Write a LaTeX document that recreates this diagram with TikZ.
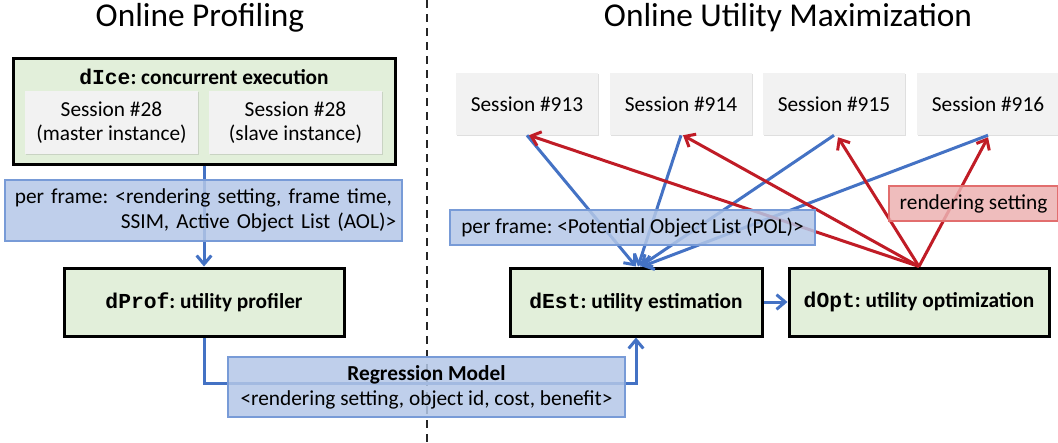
\documentclass[tikz,border=0pt]{standalone}
\usepackage{fontspec}
\setmainfont{Carlito}
\newfontfamily\monofont{Liberation Mono}
\usetikzlibrary{arrows.meta,shadows,calc}
\pgfdeclarelayer{back}\pgfdeclarelayer{front}
\pgfsetlayers{back,main,front}
\definecolor{gfill}{RGB}{226,239,218}
\definecolor{sgray}{RGB}{242,242,242}
\definecolor{lblfill}{RGB}{180,199,231}
\definecolor{lblborder}{RGB}{120,155,215}
\definecolor{arrblue}{RGB}{68,114,196}
\definecolor{arrred}{RGB}{192,28,38}
\definecolor{rfill}{RGB}{236,178,178}
\definecolor{rborder}{RGB}{226,110,110}
\frenchspacing
\begin{document}
\begin{tikzpicture}[x=0.75pt,y=-0.75pt,
  font=\fontsize{16}{18}\selectfont,
  wh/.style 2 args={minimum width={#1*0.75pt}, minimum height={#2*0.75pt}},
  greenbox/.style={draw=black, line width=2.25pt, fill=gfill, inner sep=0pt,
    drop shadow={shadow xshift=1.5pt, shadow yshift=-1.5pt, opacity=0.35}},
  sessbox/.style={fill=sgray, inner sep=0pt, align=center,
    drop shadow={shadow xshift=1pt, shadow yshift=-1pt, opacity=0.25}},
  bluelbl/.style={draw=lblborder, line width=0.8pt, fill=lblfill, fill opacity=0.85, text opacity=1},
  redlbl/.style={draw=rborder, line width=0.8pt, fill=rfill, fill opacity=0.85, text opacity=1},
  bluearrow/.style={draw=arrblue, line width=2.25pt, -{Straight Barb[length=6.5pt,width=11pt]}},
  redarrow/.style={draw=arrred, line width=2.25pt, -{Straight Barb[length=6.5pt,width=11pt]}},
  titletext/.style={font=\fontsize{25}{30}\selectfont}
]
\useasboundingbox (0,0) rectangle (1058,443);

% titles
\node[titletext] (t1) at (200,18) {Online Profiling};
\node[titletext] (t2) at (788,18) {Online Utility Maximization};

% dashed separator
\coordinate (dtop) at (427,0);
\coordinate (dbot) at (427,443);
\begin{pgfonlayer}{back}
\draw[black!85, line width=1.1pt, dash pattern=on 6pt off 4.5pt] (dtop) -- (dbot);
\end{pgfonlayer}

% left side
\node[greenbox, wh={382}{106}] (dice) at (204,111) {};
\node[font=\fontsize{16}{18}\selectfont\bfseries] (diceT) at (204,77) {{\monofont dIce}: concurrent execution};
\node[sessbox, wh={173}{63}] (m28) at (111.5,122.5) {Session \#28\\(master instance)};
\node[sessbox, wh={173}{63}] (s28) at (295.5,122.5) {Session \#28\\(slave instance)};
\node[greenbox, wh={280}{68}] (dprof) at (204,302) {{\monofont\bfseries dProf}\textbf{: utility profiler}};

% right side
\node[sessbox, wh={142}{62}] (s913) at (527,104) {Session \#913};
\node[sessbox, wh={142}{62}] (s914) at (681,104) {Session \#914};
\node[sessbox, wh={142}{62}] (s915) at (834,104) {Session \#915};
\node[sessbox, wh={142}{62}] (s916) at (988,104) {Session \#916};
\node[greenbox, wh={252}{68}] (dest) at (636,302) {{\monofont\bfseries dEst}\textbf{: utility estimation}};
\node[greenbox, wh={260}{68}] (dopt) at (919,302) {{\monofont\bfseries dOpt}\textbf{: utility optimization}};

% label boxes (front)
\begin{pgfonlayer}{front}
\node[bluelbl, wh={397}{61}, text width=289pt, inner xsep=4pt, align=left,
  font=\fontsize{16}{18.75}\selectfont] (aol) at (203.5,210.5)
  {\hspace*{3pt}per frame: <rendering setting, frame time,\\ \hfill SSIM, Active Object List (AOL)>\hspace*{4pt}};
\node[bluelbl, wh={397}{60}, align=center, font=\fontsize{16}{18.75}\selectfont] (reg) at (426.5,387)
  {\textbf{Regression Model}\\<rendering setting, object id, cost, benefit>};
\node[bluelbl, wh={365}{35}] (pol) at (632.5,227.5) {per frame: <Potential Object List (POL)>};
\node[redlbl, wh={169}{35}] (rs) at (973.5,203.5) {rendering setting};
\end{pgfonlayer}

% connectors
\draw[bluearrow] (dice.south) -- (dprof.north);
\draw[bluearrow] (dprof.south) -- ++(0,46) -| (dest.south);
\draw[bluearrow] (dest.east) -- (dopt.west);
\draw[bluearrow] (s913.south) -- ($(dest.north)+(0,0)$);
\draw[bluearrow] (s914.south) -- ($(dest.north)+(2,0)$);
\draw[bluearrow] (s915.south) -- ($(dest.north)+(4,0)$);
\draw[bluearrow] (s916.south) -- ($(dest.north)+(6,0)$);
\draw[redarrow] (dopt.north) -- ($(s913.south)+(2,0)$);
\draw[redarrow] (dopt.north) -- ($(s914.south)+(2,0)$);
\draw[redarrow] (dopt.north) -- ($(s915.south)+(4,2)$);
\draw[redarrow] (dopt.north) -- ($(s916.south)+(0,2)$);
\end{tikzpicture}
\end{document}
